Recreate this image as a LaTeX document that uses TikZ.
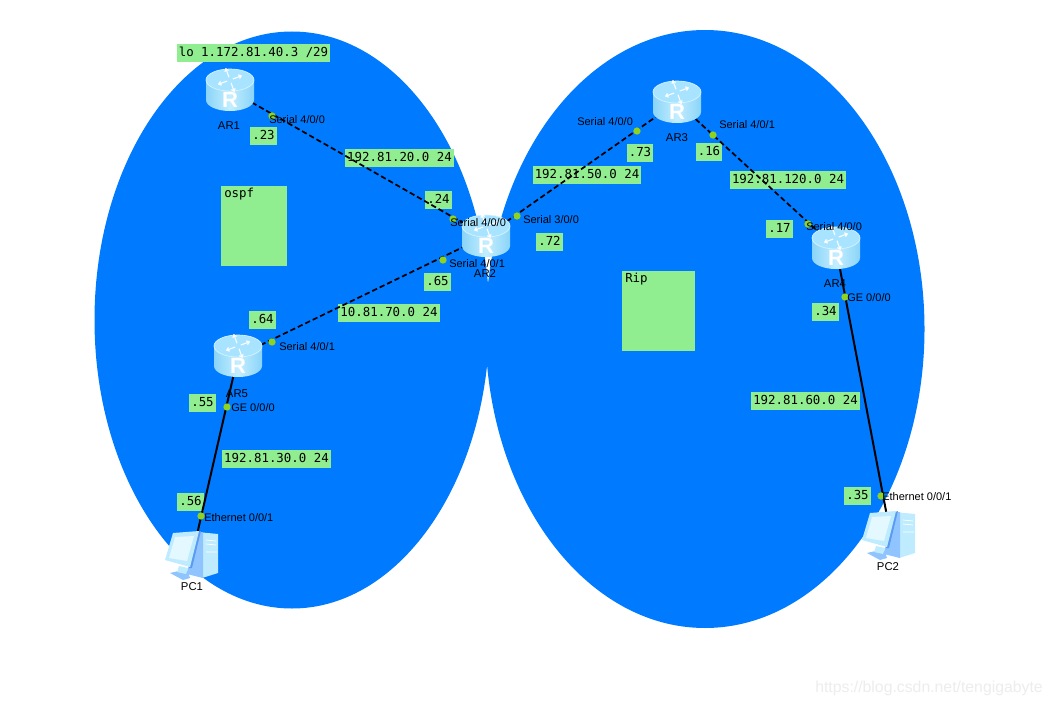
\documentclass[tikz,border=0pt]{standalone}
\usepackage{fontspec}
\setmainfont{Liberation Sans}
\newfontfamily\boxmono{DejaVu Sans Mono}
\definecolor{zoneblue}{HTML}{007BFF}
\definecolor{tagreen}{HTML}{90EE90}
\definecolor{portgreen}{HTML}{8FD21F}
\definecolor{rsideA}{HTML}{8AD4F8}
\definecolor{rsideB}{HTML}{C4EEFF}
\definecolor{rtop}{HTML}{A8E4FF}
\definecolor{pcA}{HTML}{BFEBFF}
\definecolor{pcB}{HTML}{8FC4FF}
\definecolor{pcC}{HTML}{5A9BF0}
\definecolor{pcD}{HTML}{E3F8FF}
\tikzset{
  zone/.style={fill=zoneblue,draw=none},
  tag/.style={fill=tagreen,inner ysep=0pt,inner xsep=1.5pt,text height=7pt,text depth=2pt,minimum height=13.5pt,font=\boxmono\fontsize{9.3}{10}\selectfont},
  areabox/.style={fill=tagreen,draw=none},
  areatext/.style={inner sep=0pt,anchor=north west,font=\boxmono\fontsize{9.3}{10}\selectfont},
  devpt/.style={inner sep=0pt,minimum size=0pt,draw=none},
  serialink/.style={line width=1.3pt,dash pattern=on 4pt off 2.2pt,black},
  gelink/.style={line width=1.5pt,black},
  port/.style={circle,fill=portgreen,inner sep=0pt,minimum size=5.5pt},
  portlabel/.style={inner sep=0pt,anchor=west,font=\fontsize{8.25}{9}\selectfont},
  devlabel/.style={inner sep=0pt,font=\fontsize{8.5}{9}\selectfont},
  routerpic/.pic={
    \path[left color=rsideA,right color=rsideA,middle color=rsideB]
      (-24,-10) -- (-24,10) arc[start angle=180,end angle=0,x radius=24,y radius=11] -- (24,-10) -- cycle;
    \path[fill=rtop,draw=white!55!rtop,line width=.5pt] (0,-10) ellipse[x radius=24,y radius=11];
    \foreach \a in {20,110,200,290}{
      \draw[white,line width=.8pt,rotate around={\a:(0,-10)}] (3,-10) -- (12,-10) (9.5,-12) -- (12,-10) -- (9.5,-8);
    }
    \node[inner sep=0pt,text=white,font=\fontsize{16.5}{17}\selectfont\bfseries] (glyph) at (0,10) {R};
  },
  pcpic/.pic={
    \path[fill=pcA] (4,-20) -- (25,-18) -- (25,21) -- (9,26) -- (4,22) -- cycle;
    \path[fill=pcB] (2,-19) -- (10,-20) -- (10,26) -- (-6,22) -- cycle;
    \draw[white,line width=.5pt] (13,-12) -- (23,-11) (13,-8) -- (23,-7) (13,0) -- (24,0);
    \path[fill=pcB] (-23,21) -- (-6,17) -- (-3,26) -- (-10,28) -- cycle;
    \path[fill=pcA] (-14,14) -- (-5,16) -- (-7,22) -- (-16,20) -- cycle;
    \path[fill=pcC] (8,-21) -- (-1,16) -- (-4,16) -- (5,-20) -- cycle;
    \path[fill=pcA] (-28,8) -- (-20,-19) -- (6,-21) -- (-3,15) -- cycle;
    \path[fill=pcD] (-24,6) -- (-18,-15) -- (1,-16) -- (-6,9) -- cycle;
  }
}
\begin{document}
\begin{tikzpicture}[x=.75pt,y=-.75pt]
\useasboundingbox (0,0) rectangle (1052,706);
\fill[white] (0,0) rectangle (1052,706);
% zones
\path[zone] (292,320) ellipse[x radius=197.5,y radius=288.5];
\path[zone] (705,329) ellipse[x radius=219.5,y radius=299];
% area boxes
\path[areabox] (221,186) rectangle (287,266);
\path[areabox] (622,271) rectangle (695,351);
\node[areatext] (ospftext) at (224,188) {ospf};
\node[areatext] (riptext) at (625,273) {Rip};
% address tags
\node[tag] (t1) at (253.5,53) {lo 1.172.81.40.3 /29};
\node[tag] (t2) at (263.5,136.5) {.23};
\node[tag] (t3) at (399.5,158.5) {192.81.20.0 24};
\node[tag] (t4) at (438.5,200) {.24};
\node[tag] (t5) at (587,175) {192.81.50.0 24};
\node[tag] (t6) at (640,153) {.73};
\node[tag] (t7) at (709,152) {.16};
\node[tag] (t8) at (788,180) {192.81.120.0 24};
\node[tag] (t9) at (779.5,229) {.17};
\node[tag] (t10) at (549.5,242) {.72};
\node[tag] (t11) at (437.5,282) {.65};
\node[tag] (t12) at (262.5,320) {.64};
\node[tag] (t13) at (389,313) {10.81.70.0 24};
\node[tag] (t14) at (202.5,403) {.55};
\node[tag] (t15) at (276.5,459) {192.81.30.0 24};
\node[tag] (t16) at (190.5,502) {.56};
\node[tag] (t17) at (825.5,312) {.34};
\node[tag] (t18) at (805.5,401) {192.81.60.0 24};
\node[tag] (t19) at (857.5,496) {.35};
% device anchors
\node[devpt] (ar1) at (230,90) {};
\node[devpt] (ar2) at (486,236) {};
\node[devpt] (ar3) at (677,102) {};
\node[devpt] (ar4) at (836,248) {};
\node[devpt] (ar5) at (238,356) {};
\node[devpt] (pc1) at (193,552) {};
\node[devpt] (pc2) at (890,532) {};
% links
\draw[serialink] (ar1) -- (ar2);
\draw[serialink] (ar5) -- (ar2);
\draw[serialink] (ar2) -- (ar3);
\draw[serialink] (ar3) -- (ar4);
\draw[gelink] (ar5) -- (pc1);
\draw[gelink] (ar4) -- (pc2);
% devices
\pic (ar1pic) at (ar1) {routerpic};
\pic (ar2pic) at (ar2) {routerpic};
\pic (ar3pic) at (ar3) {routerpic};
\pic (ar4pic) at (ar4) {routerpic};
\pic (ar5pic) at (ar5) {routerpic};
\pic (pc1pic) at (pc1) {pcpic};
\pic (pc2pic) at (pc2) {pcpic};
% ports
\node[port] (p1) at (272,116) {};
\node[port] (p2) at (453,219) {};
\node[port] (p3) at (517,216) {};
\node[port] (p4) at (443,260) {};
\node[port] (p5) at (637,131) {};
\node[port] (p6) at (713,135) {};
\node[port] (p7) at (808,224) {};
\node[port] (p8) at (845,297) {};
\node[port] (p9) at (272,342) {};
\node[port] (p10) at (227,407) {};
\node[port] (p11) at (201,516) {};
\node[port] (p12) at (881,496) {};
% port labels
\node[portlabel] (l1) at (269,120) {Serial 4/0/0};
\node[portlabel] (l2) at (450,223) {Serial 4/0/0};
\node[portlabel] (l3) at (523,220) {Serial 3/0/0};
\node[portlabel] (l4) at (449,264) {Serial 4/0/1};
\node[portlabel] (l5) at (577,122) {Serial 4/0/0};
\node[portlabel] (l6) at (719,125) {Serial 4/0/1};
\node[portlabel] (l7) at (806,227) {Serial 4/0/0};
\node[portlabel] (l8) at (847,298) {GE 0/0/0};
\node[portlabel] (l9) at (279,347) {Serial 4/0/1};
\node[portlabel] (l10) at (231,408) {GE 0/0/0};
\node[portlabel] (l11) at (204,518) {Ethernet 0/0/1};
\node[portlabel] (l12) at (882,497) {Ethernet 0/0/1};
% device labels
\node[devlabel] (n1) at (229,126) {AR1};
\node[devlabel] (n2) at (485,274) {AR2};
\node[devlabel] (n3) at (677,138) {AR3};
\node[devlabel] (n4) at (835,284) {AR4};
\node[devlabel] (n5) at (237,394) {AR5};
\node[devlabel] (n6) at (192,587) {PC1};
\node[devlabel] (n7) at (888,567) {PC2};
% watermark
\node[inner sep=0pt,text=black!7,font=\fontsize{11.85}{12}\selectfont] (wm) at (929,688) {https://blog.csdn.net/tengigabyte};
\end{tikzpicture}
\end{document}
